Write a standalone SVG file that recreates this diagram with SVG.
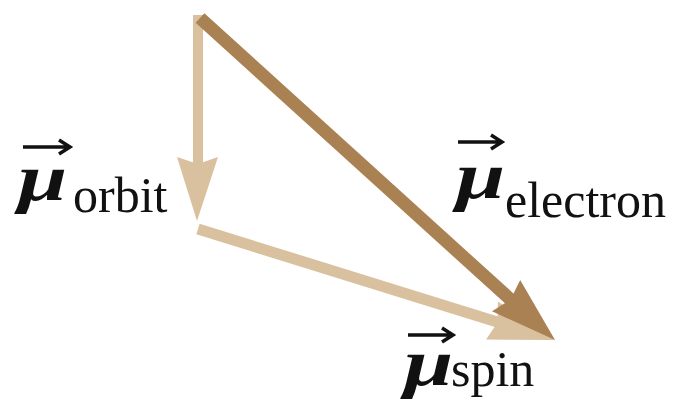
<svg xmlns="http://www.w3.org/2000/svg" width="683" height="417" viewBox="0 0 683 417">
<style>
.light{fill:#d9c09e;stroke:none}
.lightS{stroke:#d9c09e;fill:none;stroke-linecap:butt}
.dark{fill:#a98152;stroke:none}
.darkS{stroke:#a98152;fill:none;stroke-linecap:butt}
.mu{font-family:"Liberation Serif","Times New Roman",serif;font-weight:bold;font-style:italic;font-size:68px;fill:#111}
.sub{font-family:"Liberation Serif","Times New Roman",serif;font-size:50px;fill:#111}
.vec{stroke:#111;stroke-width:3.5;fill:none;stroke-linecap:butt;stroke-linejoin:miter}
</style>
<g id="connectors">
  <g id="orbit-arrow">
    <line class="lightS" x1="198" y1="15" x2="198" y2="164" stroke-width="10"/>
    <polygon class="light" points="177,157 198,164 218,157 197,221"/>
  </g>
  <g id="spin-arrow">
    <line class="lightS" x1="198" y1="229" x2="498" y2="322.3" stroke-width="11"/>
    <polygon class="light" points="486.1,339.6 497.7,322.3 497.9,301.4 555,340"/>
  </g>
  <g id="electron-arrow">
    <line class="darkS" x1="200" y1="18" x2="511" y2="300" stroke-width="13"/>
    <polygon class="dark" points="492,311.3 510.5,299.7 520.2,280.1 555,340"/>
  </g>
</g>
<g id="label-orbit">
  <path class="vec" d="M23 147 H69 M59 140 L70 147 L59 154"/>
  <text class="mu" transform="translate(18,200) scale(1.3,0.97)">μ</text>
  <text class="sub" x="73" y="212">orbit</text>
</g>
<g id="label-electron">
  <path class="vec" d="M458 142 H501 M491 135 L502 142 L491 149"/>
  <text class="mu" transform="translate(456,198) scale(1.3,0.97)">μ</text>
  <text class="sub" x="505" y="217">electron</text>
</g>
<g id="label-spin">
  <path class="vec" d="M408 335 H452 M442 328 L453 335 L442 342"/>
  <text class="mu" transform="translate(404,385) scale(1.3,0.97)">μ</text>
  <text class="sub" x="451" y="386">spin</text>
</g>
</svg>
